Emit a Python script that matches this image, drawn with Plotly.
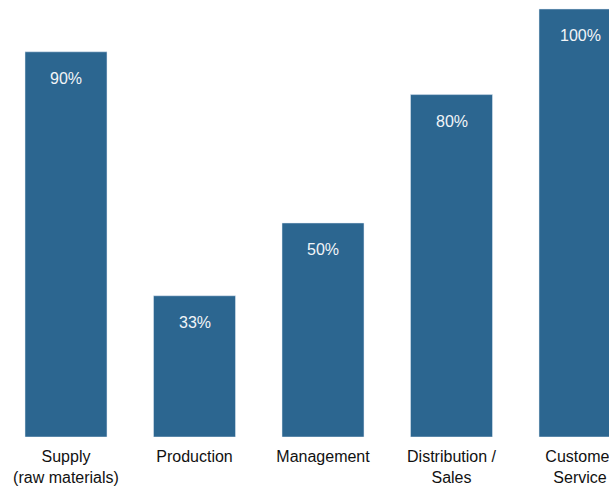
import plotly.graph_objects as go

categories = ["Supply<br>(raw materials)", "Production", "Management", "Distribution /<br>Sales", "Customer<br>Service"]
values = [90, 33, 50, 80, 100]
labels = ["90%", "33%", "50%", "80%", "100%"]

color = "#2c6690"
fig = go.Figure()
fig.add_trace(go.Bar(x=list(range(len(categories))), y=values, marker_color=color,
                     width=0.638, hoverinfo="skip"))
for i, (v, t) in enumerate(zip(values, labels)):
    fig.add_annotation(x=i, y=v, text=t, showarrow=False, yshift=-27, yanchor="middle",
                       font=dict(family="Liberation Sans, Arial", size=16, color="#f2f5f8"))

fig.update_layout(
    width=609, height=486,
    margin=dict(l=0, r=0, t=0, b=49, autoexpand=False),
    plot_bgcolor="white", paper_bgcolor="white",
    showlegend=False,
    font=dict(family="Liberation Sans, Arial", size=16, color="#111111"),
    xaxis=dict(range=[-0.5136, 4.2257], tickvals=list(range(len(categories))), ticktext=categories,
               showgrid=False, zeroline=False, showline=False, ticks="", tickfont=dict(size=16),
               ticklabeloverflow="allow", ticklabelstandoff=8, automargin=False),
    yaxis=dict(range=[0, 102.1], visible=False, showgrid=False, zeroline=False, automargin=False),
)
fig.write_html("out.html")
